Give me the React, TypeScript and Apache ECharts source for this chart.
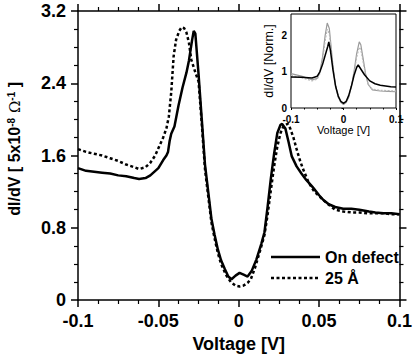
import React, { useEffect, useRef } from "react";
import * as echarts from "echarts";

// ---- main panel data: [voltage (V), dI/dV (5x10^-8 Ω^-1)] ----
const onDefect: [number, number][] = [
  [-0.1, 1.46], [-0.095, 1.43], [-0.09, 1.42], [-0.085, 1.41], [-0.08, 1.4], [-0.075, 1.38],
  [-0.07, 1.37], [-0.065, 1.35], [-0.062, 1.34], [-0.058, 1.35], [-0.055, 1.38], [-0.05, 1.46],
  [-0.047, 1.55], [-0.045, 1.6], [-0.044, 1.64], [-0.043, 1.76], [-0.042, 1.84], [-0.04, 1.92],
  [-0.0375, 2.15], [-0.035, 2.35], [-0.0325, 2.52], [-0.031, 2.65], [-0.029, 2.88], [-0.028, 2.98],
  [-0.027, 2.95], [-0.025, 2.5], [-0.023, 2.0], [-0.021, 1.5], [-0.019, 1.2], [-0.017, 0.9],
  [-0.015, 0.72], [-0.013, 0.56], [-0.011, 0.44], [-0.0086, 0.34], [-0.0065, 0.26], [-0.0045, 0.23],
  [-0.002, 0.27], [0.0005, 0.3], [0.003, 0.28], [0.0055, 0.26], [0.008, 0.32], [0.011, 0.45],
  [0.014, 0.62], [0.016, 0.75], [0.018, 1.04], [0.02, 1.35], [0.022, 1.62], [0.024, 1.85],
  [0.026, 1.94], [0.027, 1.95], [0.029, 1.9], [0.031, 1.75], [0.033, 1.59], [0.036, 1.48],
  [0.039, 1.4], [0.042, 1.33], [0.046, 1.25], [0.05, 1.16], [0.0525, 1.11], [0.056, 1.06],
  [0.06, 1.03], [0.065, 1.01], [0.07, 1.01], [0.075, 1.0], [0.081, 0.98], [0.085, 0.97],
  [0.09, 0.96], [0.095, 0.96], [0.1, 0.95],
];

const at25A: [number, number][] = [
  [-0.1, 1.67], [-0.095, 1.64], [-0.09, 1.62], [-0.085, 1.6], [-0.08, 1.57], [-0.075, 1.54],
  [-0.07, 1.5], [-0.065, 1.47], [-0.062, 1.45], [-0.058, 1.47], [-0.055, 1.52], [-0.052, 1.6],
  [-0.05, 1.68], [-0.047, 1.8], [-0.045, 1.9], [-0.0435, 2.03], [-0.042, 2.3], [-0.0405, 2.7],
  [-0.039, 2.88], [-0.037, 2.98], [-0.0355, 3.02], [-0.034, 3.01], [-0.0325, 2.96], [-0.031, 2.85],
  [-0.0295, 2.66], [-0.027, 2.52], [-0.025, 2.42], [-0.023, 1.95], [-0.021, 1.45], [-0.019, 1.15],
  [-0.017, 0.86], [-0.015, 0.68], [-0.013, 0.52], [-0.011, 0.4], [-0.008, 0.28], [-0.005, 0.2],
  [-0.002, 0.16], [0.0005, 0.15], [0.003, 0.16], [0.0055, 0.19], [0.0075, 0.23], [0.01, 0.35],
  [0.0135, 0.56], [0.016, 0.72], [0.018, 0.95], [0.02, 1.22], [0.022, 1.48], [0.024, 1.7],
  [0.026, 1.85], [0.028, 1.93], [0.0305, 1.95], [0.032, 1.9], [0.034, 1.8], [0.036, 1.67],
  [0.038, 1.55], [0.04, 1.45], [0.0435, 1.3], [0.047, 1.2], [0.05, 1.15], [0.053, 1.1],
  [0.057, 1.04], [0.06, 1.0], [0.065, 0.98], [0.07, 0.97], [0.075, 0.97], [0.08, 0.96],
  [0.085, 0.96], [0.09, 0.96], [0.095, 0.95], [0.1, 0.95],
];

// ---- inset data: [voltage (V), dI/dV (normalized)] ----
const insetBlack: [number, number][] = [
  [-0.1, 0.86], [-0.08, 0.85], [-0.06, 0.83], [-0.05, 0.88], [-0.045, 1.0], [-0.04, 1.2],
  [-0.035, 1.45], [-0.03, 1.7], [-0.028, 1.83], [-0.025, 1.6], [-0.02, 1.05], [-0.015, 0.6],
  [-0.01, 0.33], [-0.005, 0.18], [0, 0.13], [0.005, 0.18], [0.01, 0.35], [0.015, 0.6],
  [0.02, 0.9], [0.025, 1.12], [0.028, 1.19], [0.032, 1.1], [0.04, 0.92], [0.05, 0.75],
  [0.06, 0.67], [0.07, 0.63], [0.08, 0.61], [0.09, 0.59], [0.1, 0.58],
];
const insetGreyA: [number, number][] = [
  [-0.1, 0.95], [-0.08, 0.88], [-0.06, 0.78], [-0.05, 0.82], [-0.045, 1.0], [-0.04, 1.4],
  [-0.035, 2.0], [-0.031, 2.35], [-0.027, 2.2], [-0.025, 1.9], [-0.02, 1.15], [-0.015, 0.6],
  [-0.01, 0.3], [-0.005, 0.15], [0, 0.1], [0.005, 0.15], [0.01, 0.3], [0.015, 0.6],
  [0.02, 1.0], [0.025, 1.5], [0.03, 1.83], [0.033, 1.75], [0.037, 1.4], [0.042, 0.95],
  [0.047, 0.65], [0.055, 0.5], [0.07, 0.47], [0.085, 0.46], [0.1, 0.45],
];
const insetGreyB: [number, number][] = [
  [-0.1, 0.9], [-0.08, 0.84], [-0.06, 0.75], [-0.05, 0.8], [-0.045, 0.95], [-0.04, 1.3],
  [-0.035, 1.85], [-0.031, 2.18], [-0.027, 2.05], [-0.025, 1.8], [-0.02, 1.1], [-0.015, 0.58],
  [-0.01, 0.3], [-0.005, 0.15], [0, 0.11], [0.005, 0.16], [0.01, 0.32], [0.015, 0.6],
  [0.02, 0.95], [0.025, 1.4], [0.03, 1.68], [0.033, 1.62], [0.037, 1.3], [0.042, 0.92],
  [0.047, 0.66], [0.055, 0.52], [0.07, 0.49], [0.085, 0.48], [0.1, 0.47],
];

const seriesNames = ["On defect", "25 Å"];

const FONT = "'Liberation Sans', Arial, sans-serif";

export default function App() {
  const ref = useRef<HTMLDivElement>(null);
  useEffect(() => {
    const chart = echarts.init(ref.current!, null, { renderer: "svg" });
    const axisLine = { show: true, onZero: false, lineStyle: { color: "#000", width: 1.5 } };
    const mainLabel = { color: "#000", fontFamily: FONT, fontWeight: "bold" as const, fontSize: 18 };
    const insetLabel = { color: "#000", fontFamily: FONT, fontWeight: "bold" as const, fontSize: 10 };
    const legendText = { fontFamily: FONT, fontWeight: "bold", fontSize: 16, fill: "#000" };
    chart.setOption({
      animation: false,
      backgroundColor: "#fff",
      grid: [
        { left: 78, right: 11, top: 11, bottom: 61 },
        {
          left: 291, top: 14, width: 105, height: 94, show: true,
          backgroundColor: "#fff", borderColor: "#000", borderWidth: 1, z: 5,
        },
      ],
      xAxis: [
        {
          gridIndex: 0, type: "value", min: -0.1, max: 0.1, interval: 0.05,
          axisLine, axisTick: { show: true, length: 7, lineStyle: { width: 1.5, color: "#000" } },
          minorTick: { show: true, splitNumber: 4, length: 4, lineStyle: { width: 1.2, color: "#000" } },
          splitLine: { show: false },
          axisLabel: { ...mainLabel, margin: 12 },
          name: "Voltage [V]", nameLocation: "middle", nameGap: 35,
          nameTextStyle: { ...mainLabel },
        },
        {
          gridIndex: 0, type: "value", min: -0.1, max: 0.1, interval: 0.05, position: "top",
          axisLine, axisTick: { show: true, length: 7, lineStyle: { width: 1.5, color: "#000" } },
          minorTick: { show: true, splitNumber: 4, length: 4, lineStyle: { width: 1.2, color: "#000" } },
          splitLine: { show: false }, axisLabel: { show: false },
        },
        {
          gridIndex: 1, type: "value", min: -0.1, max: 0.1, interval: 0.1,
          axisLine: { show: false }, axisTick: { show: true, length: 2, lineStyle: { color: "#000" } },
          minorTick: { show: true, splitNumber: 4, length: 1.5, lineStyle: { color: "#000" } },
          splitLine: { show: false },
          axisLabel: { ...insetLabel, margin: 6 },
          name: "Voltage [V]", nameLocation: "middle", nameGap: 16,
          nameTextStyle: { ...insetLabel, fontWeight: "normal", fontSize: 11 },
        },
      ],
      yAxis: [
        {
          gridIndex: 0, type: "value", min: 0, max: 3.2, interval: 0.8,
          axisLine, axisTick: { show: true, length: 7, lineStyle: { width: 1.5, color: "#000" } },
          minorTick: { show: true, splitNumber: 4, length: 4, lineStyle: { width: 1.2, color: "#000" } },
          splitLine: { show: false },
          axisLabel: { ...mainLabel, margin: 12 },
        },
        {
          gridIndex: 0, type: "value", min: 0, max: 3.2, interval: 0.8, position: "right",
          axisLine, axisTick: { show: true, length: 7, lineStyle: { width: 1.5, color: "#000" } },
          minorTick: { show: true, splitNumber: 4, length: 4, lineStyle: { width: 1.2, color: "#000" } },
          splitLine: { show: false }, axisLabel: { show: false },
        },
        {
          gridIndex: 1, type: "value", min: 0, max: 2.6, interval: 1,
          axisLine: { show: false }, axisTick: { show: true, length: 2, lineStyle: { color: "#000" } },
          splitLine: { show: false },
          axisLabel: { ...insetLabel, margin: 4, showMaxLabel: false, lineHeight: 10 },
          name: "dI/dV [Norm.]", nameLocation: "middle", nameGap: 16, nameRotate: 90,
          nameTextStyle: { ...insetLabel, fontWeight: "normal", fontSize: 12.5 },
        },
      ],
      graphic: [
        {
          type: "text", left: 6, top: 82, rotation: Math.PI / 2, z: 10,
          style: {
            text: "{a|dI/dV [ 5x10}{s|-8}{o| Ω}{s|-1}{a| ]}",
            rich: {
              a: { fontFamily: FONT, fontWeight: "bold", fontSize: 16, fill: "#000", verticalAlign: "bottom" },
              s: { fontFamily: FONT, fontWeight: "bold", fontSize: 10, fill: "#000", verticalAlign: "top" },
              o: { fontFamily: "'DejaVu Serif', serif", fontSize: 15, fill: "#000", verticalAlign: "bottom" },
            },
          },
        },
        { type: "line", shape: { x1: 271, y1: 257, x2: 320, y2: 257 }, style: { stroke: "#000", lineWidth: 2.5 } },
        { type: "text", x: 325, y: 257, style: { ...legendText, text: seriesNames[0], verticalAlign: "middle" } },
        { type: "line", shape: { x1: 271, y1: 278, x2: 320, y2: 278 }, style: { stroke: "#000", lineWidth: 2.5, lineDash: [3, 2.5] } },
        { type: "text", x: 325, y: 278, style: { ...legendText, text: seriesNames[1], verticalAlign: "middle" } },
      ],
      series: [
        {
          name: seriesNames[0], type: "line", xAxisIndex: 0, yAxisIndex: 0, data: onDefect,
          showSymbol: false, symbol: "none", lineStyle: { color: "#000", width: 2.5 },
        },
        {
          name: seriesNames[1], type: "line", xAxisIndex: 0, yAxisIndex: 0, data: at25A,
          showSymbol: false, symbol: "none", lineStyle: { color: "#000", width: 2.5, type: [3, 2.5] },
        },
        {
          type: "line", xAxisIndex: 2, yAxisIndex: 2, data: insetGreyA, z: 6,
          showSymbol: false, symbol: "none", lineStyle: { color: "#9a9a9a", width: 1.2 },
        },
        {
          type: "line", xAxisIndex: 2, yAxisIndex: 2, data: insetGreyB, z: 6,
          showSymbol: false, symbol: "none", lineStyle: { color: "#b8b8b8", width: 1.2, type: [2, 1.5] },
        },
        {
          type: "line", xAxisIndex: 2, yAxisIndex: 2, data: insetBlack, z: 7,
          showSymbol: false, symbol: "none", lineStyle: { color: "#000", width: 1.5 },
        },
      ],
    });
    return () => chart.dispose();
  }, []);
  return <div ref={ref} style={{ width: 415, height: 361, position: "absolute", left: 0, top: 0 }} />;
}
